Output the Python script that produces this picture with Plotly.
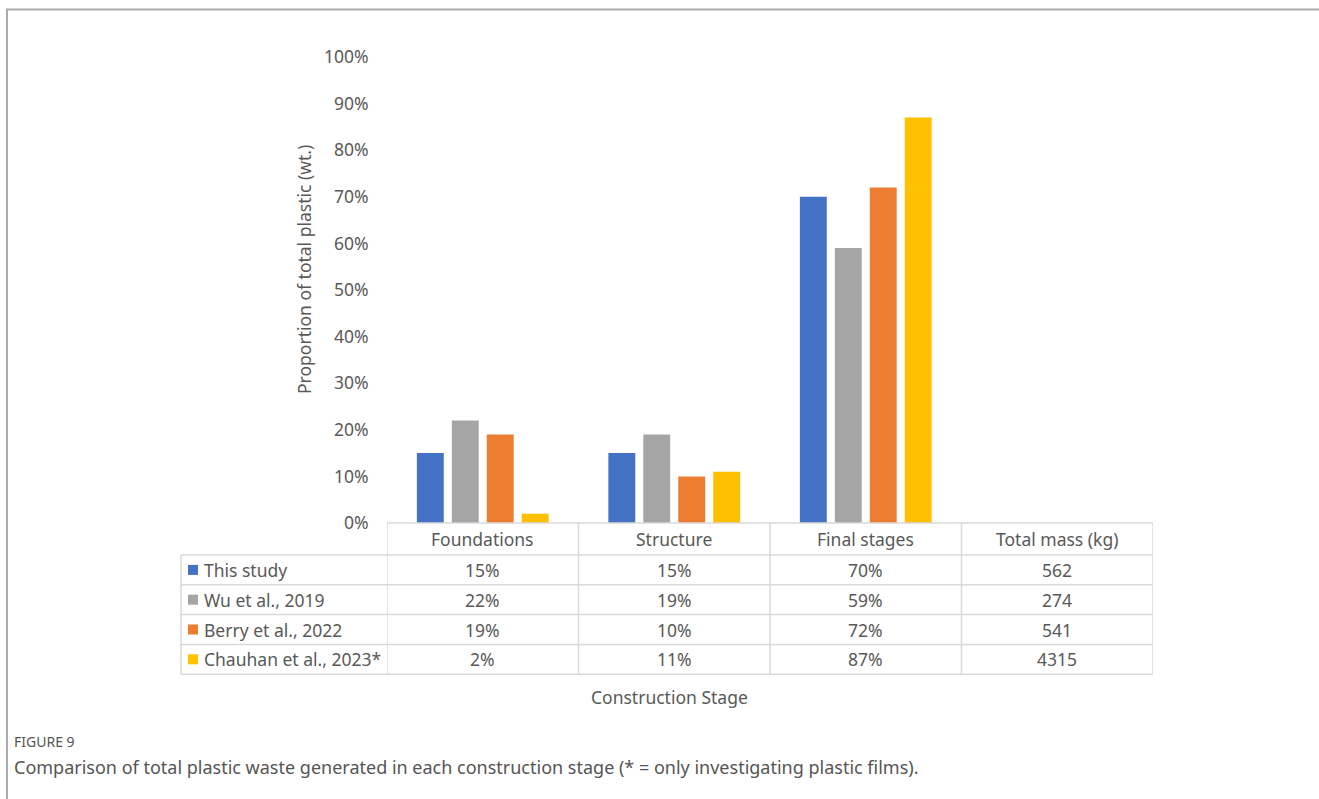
import plotly.graph_objects as go

# ---- data -------------------------------------------------------------
stages = ["Foundations", "Structure", "Final stages", "Total mass (kg)"]
bar_stages = ["Foundations", "Structure", "Final stages"]

studies = ["This study", "Wu et al., 2019", "Berry et al., 2022", "Chauhan et al., 2023*"]
colors = ["#4472C4", "#A5A5A5", "#ED7D31", "#FFC000"]

this_study = [15, 15, 70]
wu_2019 = [22, 19, 59]
berry_2022 = [19, 10, 72]
chauhan_2023 = [2, 11, 87]
series_values = [this_study, wu_2019, berry_2022, chauhan_2023]

total_mass_kg = [562, 274, 541, 4315]

y_ticks = list(range(0, 101, 10))
y_tick_labels = [f"{t}%" for t in y_ticks]

# ---- geometry (pixels) ------------------------------------------------
W, H = 1319, 799
plot_left, plot_right = 387, 1153
plot_top, plot_bottom = 57, 523
plot_w = plot_right - plot_left
plot_h = plot_bottom - plot_top
label_col_left = 181
row_h = 29.8
header_h = 32

FONT = "Noto Sans"
FS = 17.5
TXT = "#595959"
GRID = "#d9d9d9"


def px_x(x):
    return (x - plot_left) / plot_w


def px_y(y):
    return (plot_bottom - y) / plot_h


fig = go.Figure()
for name, vals, col in zip(studies, series_values, colors):
    fig.add_trace(go.Bar(
        x=bar_stages, y=vals, name=name, marker=dict(color=col, line_width=0),
        hovertemplate="%{x}: %{y}%<extra>" + name + "</extra>",
    ))

shapes = []
annotations = []
line_style = dict(color=GRID, width=1.5)

# table grid: horizontal rules
row_edges = [plot_bottom + header_h + i * row_h for i in range(len(studies) + 1)]
shapes.append(dict(type="line", xref="paper", yref="paper",
                   x0=0, x1=1, y0=0, y1=0, line=line_style))
for ye in row_edges:
    shapes.append(dict(type="line", xref="paper", yref="paper",
                       x0=px_x(label_col_left), x1=1, y0=px_y(ye), y1=px_y(ye),
                       line=line_style))
# vertical rules at category boundaries
for k in range(len(stages) + 1):
    shapes.append(dict(type="line", xref="x", yref="paper",
                       x0=k - 0.5, x1=k - 0.5, y0=0, y1=px_y(row_edges[-1]),
                       line=line_style))
shapes.append(dict(type="line", xref="paper", yref="paper",
                   x0=px_x(label_col_left), x1=px_x(label_col_left),
                   y0=px_y(row_edges[0]), y1=px_y(row_edges[-1]), line=line_style))

# header cells
for k, s in enumerate(stages):
    annotations.append(dict(xref="x", yref="paper", x=k,
                            y=px_y(plot_bottom + header_h / 2), text=s,
                            showarrow=False, xanchor="center", yanchor="middle",
                            font=dict(family=FONT, size=FS, color=TXT)))

# body rows
for i, (name, vals, col) in enumerate(zip(studies, series_values, colors)):
    yc = row_edges[i] + row_h / 2
    shapes.append(dict(type="rect", xref="paper", yref="paper",
                       x0=px_x(188), x1=px_x(198), y0=px_y(yc - 5), y1=px_y(yc + 5),
                       fillcolor=col, line_width=0))
    annotations.append(dict(xref="paper", yref="paper", x=px_x(202), y=px_y(yc),
                            text=name, showarrow=False, xanchor="left",
                            yanchor="middle",
                            font=dict(family=FONT, size=FS, color=TXT)))
    cells = [f"{v}%" for v in vals] + [str(total_mass_kg[i])]
    for k, c in enumerate(cells):
        annotations.append(dict(xref="x", yref="paper", x=k, y=px_y(yc), text=c,
                                showarrow=False, xanchor="center", yanchor="middle",
                                font=dict(family=FONT, size=FS, color=TXT)))

# axis titles
annotations.append(dict(xref="paper", yref="paper", x=px_x(304), y=px_y(270),
                        text="Proportion of total plastic (wt.)", textangle=-90,
                        showarrow=False, xanchor="center", yanchor="middle",
                        font=dict(family=FONT, size=FS, color=TXT)))
annotations.append(dict(xref="paper", yref="paper", x=px_x(669), y=px_y(697),
                        text="Construction Stage", showarrow=False,
                        xanchor="center", yanchor="middle",
                        font=dict(family=FONT, size=FS, color=TXT)))

# caption
annotations.append(dict(xref="paper", yref="paper", x=px_x(12), y=px_y(741),
                        text="FIGURE 9", showarrow=False, xanchor="left",
                        yanchor="middle",
                        font=dict(family=FONT, size=14, color="#555555")))
annotations.append(dict(xref="paper", yref="paper", x=px_x(12), y=px_y(767),
                        text="Comparison of total plastic waste generated in each "
                             "construction stage (* = only investigating plastic films).",
                        showarrow=False, xanchor="left", yanchor="middle",
                        font=dict(family=FONT, size=18, color="#555555")))

# page frame
frame = dict(color="#ababab", width=2)
shapes.append(dict(type="line", xref="paper", yref="paper",
                   x0=px_x(6), x1=px_x(W + 5), y0=px_y(9.5), y1=px_y(9.5), line=frame))
shapes.append(dict(type="line", xref="paper", yref="paper",
                   x0=px_x(7), x1=px_x(7), y0=px_y(9.5), y1=px_y(H + 5), line=frame))

fig.update_layout(
    width=W, height=H,
    margin=dict(l=plot_left, r=W - plot_right, t=plot_top, b=H - plot_bottom),
    paper_bgcolor="white", plot_bgcolor="white",
    barmode="group", bargap=0.27, bargroupgap=0.23,
    showlegend=False,
    xaxis=dict(type="category", categoryorder="array", categoryarray=stages,
               range=[-0.5, len(stages) - 0.5], showticklabels=False,
               showgrid=False, zeroline=False, showline=False, ticks=""),
    yaxis=dict(range=[0, 100], tickmode="array", tickvals=y_ticks,
               ticktext=y_tick_labels,
               showgrid=False, zeroline=False, showline=False,
               ticks="outside", ticklen=14, tickcolor="rgba(0,0,0,0)",
               tickfont=dict(family=FONT, size=FS, color=TXT)),
    shapes=shapes, annotations=annotations,
    font=dict(family=FONT, color=TXT),
)

fig.write_html("out.html")
